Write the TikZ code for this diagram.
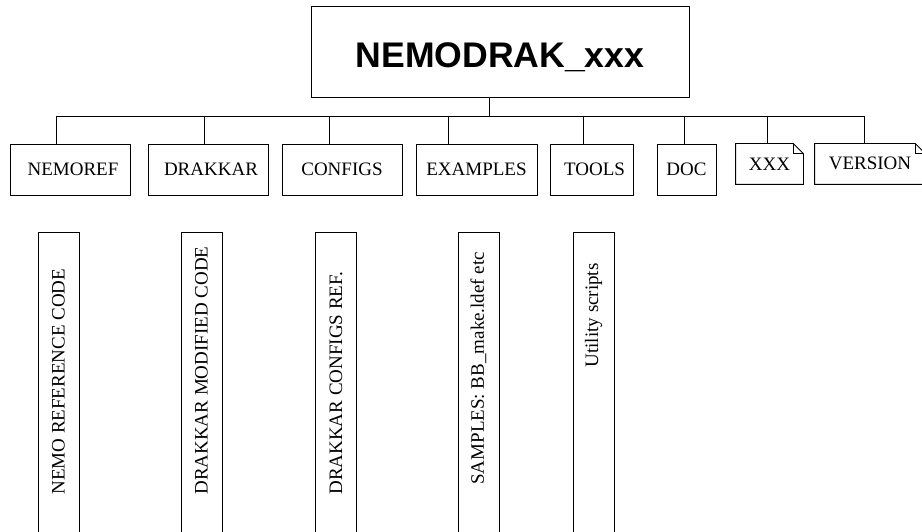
\documentclass[tikz,border=0pt]{standalone}
\usepackage{fontspec}
\setmainfont{Liberation Serif}
\newfontfamily\titlefont{Liberation Sans}
\begin{document}
\begin{tikzpicture}[x=1pt,y=-1pt,line width=0.8pt,
        every node/.style={font=\fontsize{19}{22}\selectfont},
        dirbox/.style={draw, rectangle, inner sep=0pt},
        notebox/.style={rectangle, inner sep=0pt},
        descbox/.style={draw, rectangle, inner sep=0pt, minimum width=41pt, minimum height=330pt, anchor=north},
        desctext/.style={rotate=90, inner sep=0pt}]
        \useasboundingbox (0,0) rectangle (922,532);
        \clip (0,0) rectangle (922,532);

        \node[dirbox, minimum width=378pt, minimum height=91pt, font=\titlefont\bfseries\fontsize{35.6}{40}\selectfont] (TOP) at (500, 51.5) {\raisebox{-16.5pt}[0pt][0pt]{NEMODRAK\_xxx}};

        \node[dirbox, minimum width=120pt, minimum height=51pt] (NEMOREF) at (70, 169.5) {\hspace{6pt}NEMOREF};

        \node[dirbox, minimum width=120pt, minimum height=51pt] (DRAKKAR) at (208, 169.5) {\hspace{6pt}DRAKKAR};

        \node[dirbox, minimum width=120pt, minimum height=51pt] (CONFIGS) at (342, 169.5) {CONFIGS};

        \node[dirbox, minimum width=121pt, minimum height=51pt] (EXAMPLES) at (476.5, 169.5) {EXAMPLES};

        \node[dirbox, minimum width=83pt, minimum height=51pt] (TOOLS) at (591.5, 169.5) {\hspace{6pt}TOOLS};

        \node[dirbox, minimum width=59pt, minimum height=51pt] (DOC) at (686.5, 169.5) {DOC};

        \node[notebox, minimum width=67pt, minimum height=40pt] (XXX) at (769.5, 164) {XXX};

        \node[notebox, minimum width=110pt, minimum height=40pt] (VERSION) at (870, 164) {\raisebox{2pt}{VERSION}};

        % folded corners
        \foreach \note in {XXX, VERSION}
            \draw (\note.north west) -- ([xshift=-10pt]\note.north east) -- ([yshift=-10pt]\note.north east)
                -- (\note.south east) -- (\note.south west) -- cycle
                ([xshift=-10pt]\note.north east) |- ([yshift=-10pt]\note.north east);

        % tree
        \coordinate (stem) at (489, 116);
        \coordinate (busL) at (56, 116);
        \coordinate (busR) at (864, 116);
        \draw (stem |- TOP.south) -- (stem);
        \draw (busL) -- (busR);
        \foreach \dir/\x [count=\i] in {NEMOREF/56, DRAKKAR/204, CONFIGS/329, EXAMPLES/448, TOOLS/583, DOC/684, XXX/767, VERSION/864}{
            \coordinate (drop\i) at (\x, 116);
            \draw (drop\i) -- (drop\i |- \dir.north);
        }

        % descriptions
        \node[descbox] (NEMOdesc) at (58.5, 232) {};
        \node[descbox] (DRAKdesc) at (201.5, 232) {};
        \node[descbox] (CONFdesc) at (336, 232) {};
        \node[descbox] (EXAMdesc) at (478.5, 232) {};
        \node[descbox] (TOOLdesc) at (593.5, 232) {};

        \node[desctext, anchor=west] (NEMOtxt) at (NEMOdesc.north |- 0,495) {NEMO REFERENCE CODE};
        \node[desctext, anchor=west] (DRAKtxt) at (DRAKdesc.north |- 0,495) {DRAKKAR MODIFIED CODE};
        \node[desctext, anchor=west] (CONFtxt) at (CONFdesc.north |- 0,495) {DRAKKAR CONFIGS REF.};
        \node[desctext, anchor=west] (EXAMtxt) at (EXAMdesc.north |- 0,485) {SAMPLES: BB\_make.ldef etc};
        \node[desctext, anchor=east] (TOOLtxt) at (TOOLdesc.north |- 0,263) {Utility scripts};

    \end{tikzpicture}
\end{document}
